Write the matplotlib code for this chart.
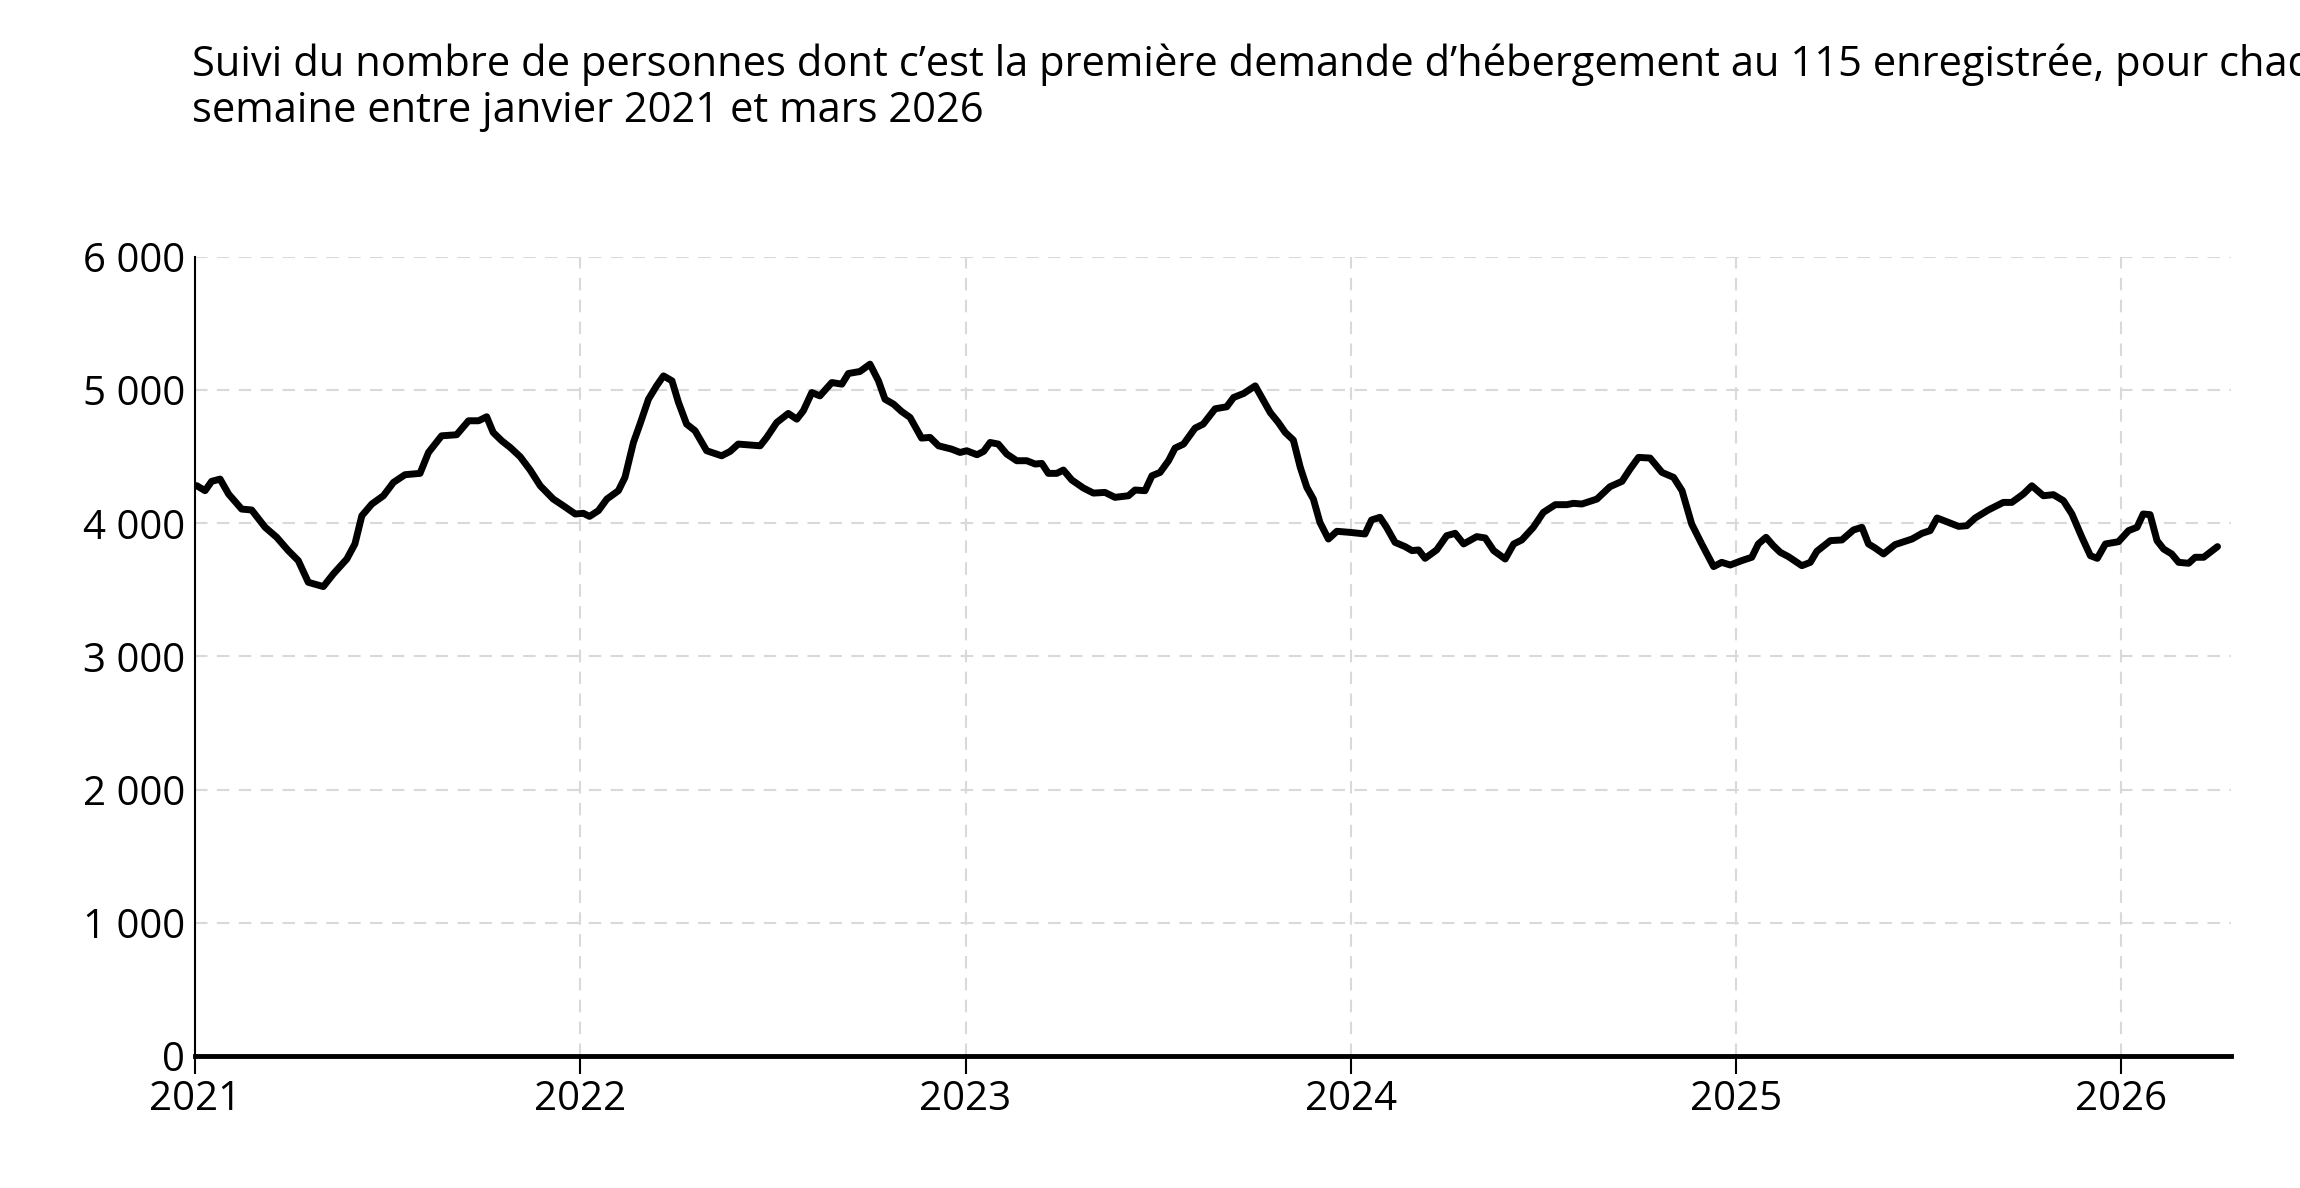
import matplotlib
matplotlib.use("Agg")
import matplotlib.pyplot as plt
from matplotlib.ticker import FuncFormatter

# position dans le temps (annee decimale) et nombre de premieres demandes
annees = [
    2021.004, 2021.026, 2021.043, 2021.065, 2021.087, 2021.121, 2021.147, 2021.182,
    2021.212, 2021.242, 2021.268, 2021.294, 2021.333, 2021.359, 2021.394, 2021.415,
    2021.433, 2021.459, 2021.489, 2021.515, 2021.545, 2021.584, 2021.606, 2021.640,
    2021.679, 2021.710, 2021.736, 2021.757, 2021.774, 2021.796, 2021.818, 2021.844,
    2021.870, 2021.896, 2021.930, 2021.956, 2021.987, 2022.008, 2022.024, 2022.047,
    2022.069, 2022.099, 2022.116, 2022.138, 2022.155, 2022.177, 2022.198, 2022.216,
    2022.238, 2022.255, 2022.276, 2022.298, 2022.328, 2022.367, 2022.389, 2022.410,
    2022.467, 2022.484, 2022.510, 2022.540, 2022.562, 2022.579, 2022.601, 2022.622,
    2022.653, 2022.679, 2022.696, 2022.726, 2022.752, 2022.774, 2022.791, 2022.813,
    2022.834, 2022.856, 2022.886, 2022.908, 2022.930, 2022.964, 2022.986, 2023.003,
    2023.030, 2023.047, 2023.064, 2023.085, 2023.107, 2023.133, 2023.159, 2023.181,
    2023.198, 2023.215, 2023.237, 2023.254, 2023.276, 2023.306, 2023.332, 2023.362,
    2023.388, 2023.423, 2023.440, 2023.466, 2023.484, 2023.505, 2023.527, 2023.544,
    2023.566, 2023.596, 2023.617, 2023.648, 2023.678, 2023.696, 2023.722, 2023.752,
    2023.769, 2023.791, 2023.812, 2023.830, 2023.851, 2023.869, 2023.886, 2023.903,
    2023.920, 2023.942, 2023.964, 2023.998, 2024.037, 2024.054, 2024.076, 2024.093,
    2024.115, 2024.141, 2024.159, 2024.176, 2024.193, 2024.223, 2024.249, 2024.271,
    2024.293, 2024.327, 2024.349, 2024.371, 2024.401, 2024.423, 2024.444, 2024.474,
    2024.500, 2024.531, 2024.561, 2024.578, 2024.600, 2024.639, 2024.673, 2024.704,
    2024.725, 2024.747, 2024.777, 2024.808, 2024.838, 2024.860, 2024.885, 2024.911,
    2024.942, 2024.963, 2024.985, 2025.015, 2025.041, 2025.058, 2025.078, 2025.097,
    2025.115, 2025.136, 2025.171, 2025.193, 2025.210, 2025.245, 2025.275, 2025.305,
    2025.327, 2025.344, 2025.361, 2025.383, 2025.413, 2025.457, 2025.483, 2025.504,
    2025.522, 2025.551, 2025.578, 2025.599, 2025.621, 2025.655, 2025.677, 2025.694,
    2025.716, 2025.746, 2025.768, 2025.798, 2025.824, 2025.850, 2025.872, 2025.898,
    2025.920, 2025.938, 2025.959, 2025.993, 2026.019, 2026.041, 2026.057, 2026.075,
    2026.093, 2026.110, 2026.131, 2026.149, 2026.175, 2026.192, 2026.214, 2026.250,
]
demandes = [
    4283, 4245, 4315, 4332, 4220, 4107, 4100, 3970,
    3895, 3795, 3720, 3557, 3525, 3620, 3732, 3845,
    4057, 4145, 4207, 4307, 4365, 4375, 4532, 4657,
    4665, 4770, 4770, 4800, 4682, 4620, 4570, 4500,
    4400, 4282, 4182, 4132, 4070, 4075, 4052, 4095,
    4182, 4245, 4345, 4607, 4745, 4932, 5032, 5107,
    5070, 4907, 4745, 4695, 4545, 4507, 4540, 4595,
    4582, 4645, 4757, 4825, 4782, 4845, 4982, 4957,
    5057, 5045, 5125, 5140, 5195, 5070, 4932, 4895,
    4840, 4795, 4640, 4645, 4582, 4557, 4532, 4545,
    4515, 4540, 4607, 4595, 4520, 4470, 4470, 4445,
    4450, 4375, 4375, 4400, 4325, 4265, 4227, 4232,
    4195, 4207, 4250, 4245, 4357, 4382, 4470, 4565,
    4595, 4715, 4745, 4860, 4875, 4945, 4975, 5032,
    4945, 4832, 4757, 4682, 4625, 4420, 4270, 4182,
    4007, 3882, 3940, 3932, 3920, 4025, 4045, 3970,
    3857, 3825, 3795, 3800, 3737, 3800, 3907, 3925,
    3845, 3900, 3890, 3795, 3732, 3845, 3875, 3970,
    4082, 4140, 4140, 4150, 4145, 4182, 4275, 4315,
    4407, 4495, 4490, 4382, 4345, 4245, 3995, 3845,
    3675, 3707, 3687, 3720, 3745, 3845, 3895, 3832,
    3782, 3750, 3682, 3707, 3790, 3870, 3875, 3950,
    3970, 3845, 3815, 3770, 3840, 3882, 3925, 3945,
    4040, 4007, 3977, 3982, 4040, 4100, 4132, 4157,
    4157, 4220, 4282, 4207, 4215, 4170, 4070, 3895,
    3757, 3737, 3845, 3862, 3945, 3970, 4070, 4065,
    3870, 3807, 3770, 3707, 3700, 3745, 3745, 3825,
]

annees_ticks = [2021, 2022, 2023, 2024, 2025, 2026]
valeurs_ticks = [0, 1000, 2000, 3000, 4000, 5000, 6000]

titre_l1 = ("Suivi du nombre de personnes dont c\u2019est la premi\u00e8re demande "
            "d\u2019h\u00e9bergement au 115 enregistr\u00e9e, pour chaque")
titre_l2 = "semaine entre janvier 2021 et mars 2026"

plt.rcParams["font.family"] = ["Open Sans", "DejaVu Sans"]

fig = plt.figure(figsize=(23, 11.88), dpi=100)
ax = fig.add_axes([0.0848, 0.1111, 0.9700 - 0.0848, 0.7837 - 0.1111])

ax.plot(annees, demandes, color="black", lw=5, solid_joinstyle="round",
        solid_capstyle="round", zorder=3)

ax.set_xlim(2021, 2026.285)
ax.set_ylim(0, 6000)
ax.set_xticks(annees_ticks)
ax.set_yticks(valeurs_ticks)
ax.yaxis.set_major_formatter(FuncFormatter(lambda v, p: f"{int(v):,}".replace(",", " ")))

ax.grid(True, color="#d9d9d9", lw=1.5, linestyle=(0, (6, 4.5)), zorder=0)
for s in ["top", "right"]:
    ax.spines[s].set_visible(False)
ax.spines["left"].set_linewidth(1.5)
ax.spines["bottom"].set_linewidth(3.5)
ax.spines["left"].set_zorder(4)
ax.spines["bottom"].set_zorder(4)

ax.tick_params(axis="y", length=0, pad=7, labelsize=29)
ax.tick_params(axis="x", length=13, width=1.5, pad=4, labelsize=29)

# le titre deborde a droite comme sur l'original
fig.text(192 / 2300, 1 - 76 / 1188, titre_l1, ha="left", va="baseline", fontsize=30)
fig.text(192 / 2300, 1 - 122 / 1188, titre_l2, ha="left", va="baseline", fontsize=30)

fig.savefig("out.png", dpi=100)
